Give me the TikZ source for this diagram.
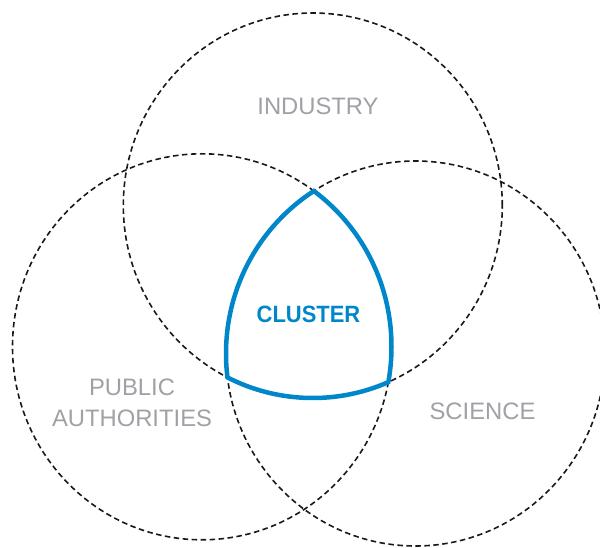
\documentclass[tikz,border=0pt]{standalone}
\usepackage{fontspec}
\setmainfont{Liberation Sans}
\newfontfamily\clusterfont[FakeStretch=0.93]{Liberation Sans}
\definecolor{labelgray}{HTML}{A0A1A6}
\definecolor{clusterblue}{HTML}{0087CA}
\begin{document}
\begin{tikzpicture}[x=1pt,y=1pt,
  ring/.style={draw=black!90, line width=1.6pt, dash pattern=on 5.5pt off 3.5pt},
  lbl/.style={text=labelgray, font=\fontsize{23.8}{30.7}\selectfont, inner sep=0pt, anchor=base, align=center},
  clusterlbl/.style={text=clusterblue, font=\clusterfont\bfseries\fontsize{23.6}{28}\selectfont, inner sep=0pt, anchor=base}]
\useasboundingbox (0,0) rectangle (600,547);
\coordinate (cI) at (312.8,341.5);
\coordinate (cP) at (202,200.2);
\coordinate (cS) at (415.5,193.5);
\draw[ring] (cI) ellipse[x radius=189.5, y radius=192.5];
\draw[ring] (cP) ellipse[x radius=189.5, y radius=193];
\draw[ring] (cS) ellipse[x radius=189.5, y radius=192.5];
\begin{scope}
  \clip (cI) ellipse[x radius=191.75, y radius=194.75];
  \clip (cP) ellipse[x radius=191.75, y radius=195.25];
  \clip (cS) ellipse[x radius=191.75, y radius=194.75];
  \draw[clusterblue, line width=9pt]
    (cI) ellipse[x radius=191.75, y radius=194.75]
    (cP) ellipse[x radius=191.75, y radius=195.25]
    (cS) ellipse[x radius=191.75, y radius=194.75];
\end{scope}
\node[lbl] (industry) at (318,432.7) {INDUSTRY};
\node[lbl] (science) at (482.5,128) {SCIENCE};
\node[lbl] (public) at (132,121) {PUBLIC\\AUTHORITIES};
\node[clusterlbl] (cluster) at (308.5,224.7) {CLUSTER};
\end{tikzpicture}
\end{document}
